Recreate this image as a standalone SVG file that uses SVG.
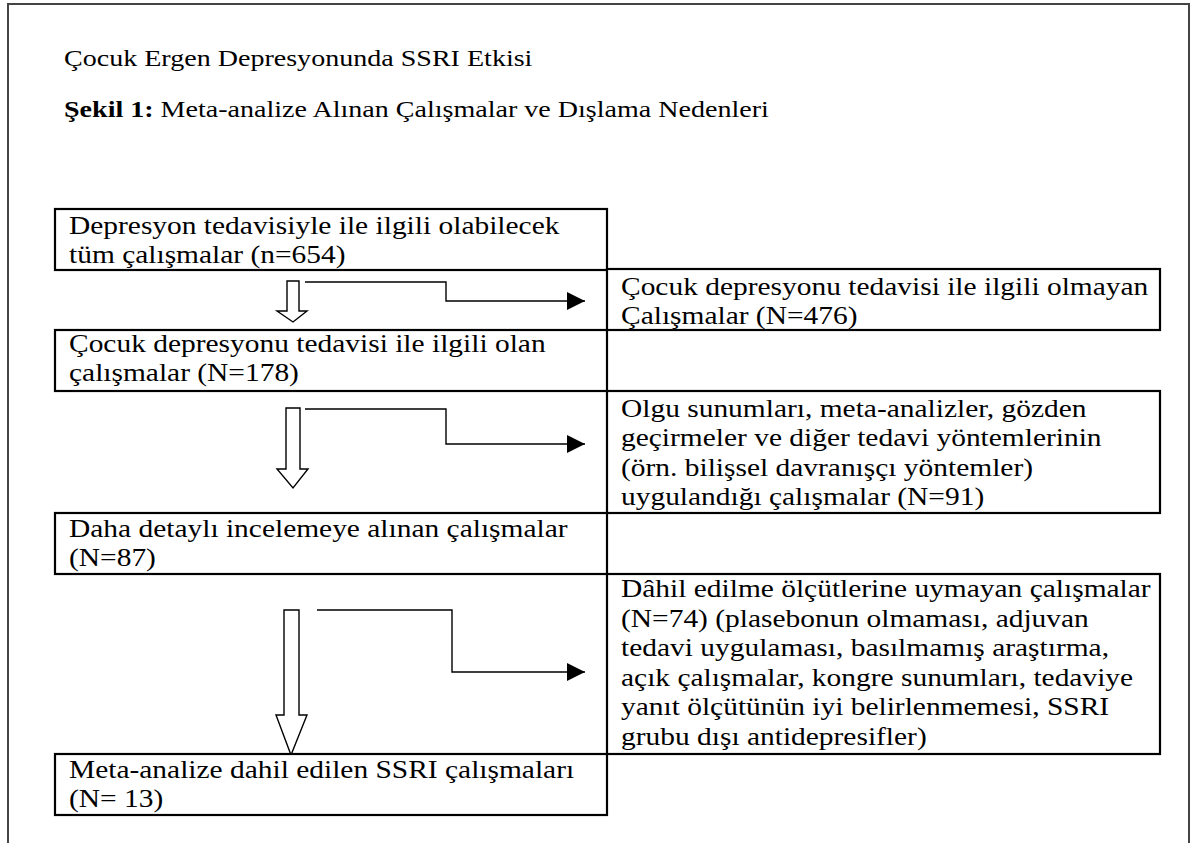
<svg xmlns="http://www.w3.org/2000/svg" width="1196" height="843" viewBox="0 0 1196 843">
<style>
.frame{fill:none;stroke:#444;stroke-width:2}
.box{fill:#fff;stroke:#000;stroke-width:2.2}
.blk{fill:#fff;stroke:#000;stroke-width:1.4;stroke-linejoin:miter}
.conn{fill:none;stroke:#000;stroke-width:1.4}
</style>
<defs>
<marker id="ah" markerUnits="userSpaceOnUse" markerWidth="19" markerHeight="18" refX="18" refY="9" orient="auto">
<path d="M0,0 L18,9 L0,18 Z" fill="#000"/>
</marker>
</defs>
<rect width="1196" height="843" fill="#fff"/>
<path class="frame" d="M8,843 V4 H1189 V843"/>
<g id="title" font-family="Liberation Serif, serif" font-size="23" fill="#000">
<text transform="matrix(1.22 0 0 1 64 66)">Çocuk Ergen Depresyonunda SSRI Etkisi</text>
<text transform="matrix(1.22 0 0 1 64 117)"><tspan font-weight="bold">Şekil 1:</tspan> Meta-analize Alınan Çalışmalar ve Dışlama Nedenleri</text>
</g>
<g id="connectors">
<path class="conn" d="M305,282 H446 V301 H585" marker-end="url(#ah)"/>
<path class="conn" d="M305,409 H446 V444 H585" marker-end="url(#ah)"/>
<path class="conn" d="M317,610 H452 V672 H585" marker-end="url(#ah)"/>
<polygon class="blk" points="287,281 299,281 299,311 307,311 293,322 277,311 287,311"/>
<polygon class="blk" points="286,408 300,408 300,469 308,469 293,488 277,469 286,469"/>
<polygon class="blk" points="284,610 299,610 299,715 307,715 291,755 276,715 284,715"/>
</g>
<g font-family="Liberation Serif, serif" font-size="25.5" fill="#000">
<g id="nodeA">
<rect class="box" x="55" y="209" width="552" height="61"/>
<text transform="matrix(1.155 0 0 1 69 234)"><tspan x="0" y="0">Depresyon tedavisiyle ile ilgili olabilecek</tspan><tspan x="0" y="29.5">tüm çalışmalar (n=654)</tspan></text>
</g>
<g id="nodeB">
<rect class="box" x="607" y="269" width="553" height="61"/>
<text transform="matrix(1.155 0 0 1 621 295)"><tspan x="0" y="0">Çocuk depresyonu tedavisi ile ilgili olmayan</tspan><tspan x="0" y="29.5">Çalışmalar (N=476)</tspan></text>
</g>
<g id="nodeC">
<rect class="box" x="55" y="330" width="552" height="61"/>
<text transform="matrix(1.155 0 0 1 69 352)"><tspan x="0" y="0">Çocuk depresyonu tedavisi ile ilgili olan</tspan><tspan x="0" y="29">çalışmalar (N=178)</tspan></text>
</g>
<g id="nodeD">
<rect class="box" x="607" y="391" width="553" height="122"/>
<text transform="matrix(1.155 0 0 1 621 417)"><tspan x="0" y="0">Olgu sunumları, meta-analizler, gözden</tspan><tspan x="0" y="29.5">geçirmeler ve diğer tedavi yöntemlerinin</tspan><tspan x="0" y="59">(örn. bilişsel davranışçı yöntemler)</tspan><tspan x="0" y="88.5">uygulandığı çalışmalar (N=91)</tspan></text>
</g>
<g id="nodeE">
<rect class="box" x="55" y="513" width="552" height="61"/>
<text transform="matrix(1.155 0 0 1 69 537)"><tspan x="0" y="0">Daha detaylı incelemeye alınan çalışmalar</tspan><tspan x="0" y="29">(N=87)</tspan></text>
</g>
<g id="nodeF">
<rect class="box" x="607" y="574" width="553" height="180"/>
<text transform="matrix(1.155 0 0 1 621 597)"><tspan x="0" y="0">Dâhil edilme ölçütlerine uymayan çalışmalar</tspan><tspan x="0" y="29.6">(N=74) (plasebonun olmaması, adjuvan</tspan><tspan x="0" y="59.2">tedavi uygulaması, basılmamış araştırma,</tspan><tspan x="0" y="88.8">açık çalışmalar, kongre sunumları, tedaviye</tspan><tspan x="0" y="118.4">yanıt ölçütünün iyi belirlenmemesi, SSRI</tspan><tspan x="0" y="148">grubu dışı antidepresifler)</tspan></text>
</g>
<g id="nodeG">
<rect class="box" x="55" y="754" width="552" height="61"/>
<text transform="matrix(1.155 0 0 1 69 778)"><tspan x="0" y="0">Meta-analize dahil edilen SSRI çalışmaları</tspan><tspan x="0" y="29">(N= 13)</tspan></text>
</g>
</g>
</svg>
